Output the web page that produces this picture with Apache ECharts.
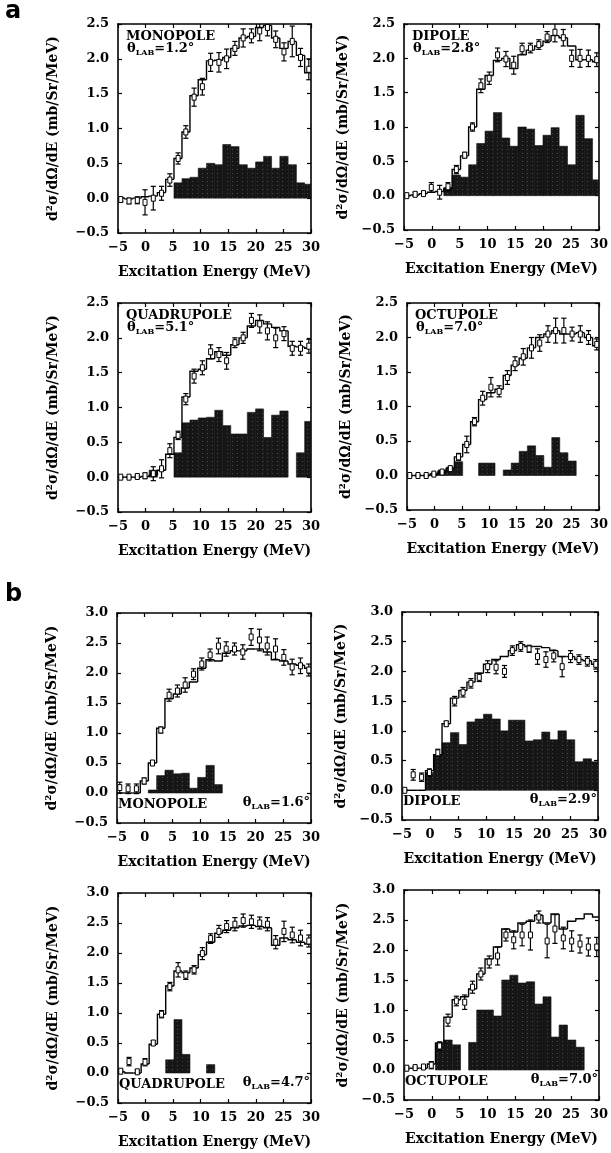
<!DOCTYPE html>
<html>
<head>
<meta charset="utf-8">
<script src="https://cdn.jsdelivr.net/npm/echarts/dist/echarts.min.js"></script>
<style>
  html, body { margin: 0; padding: 0; background: #fff; }
  #chart { width: 611px; height: 1153px; }
</style>
</head>
<body>
<div id="chart"></div>
<script>
// Bin centres (MeV) shared by every panel
const energy = [-4.5, -3.0, -1.5, -0.1, 1.4, 2.9, 4.4, 5.9, 7.3, 8.8, 10.3, 11.8,
                13.3, 14.7, 16.2, 17.7, 19.2, 20.7, 22.1, 23.6, 25.1, 26.6, 28.1, 29.6];

// Axis ticks
const xTicks  = [-5, 0, 5, 10, 15, 20, 25, 30];
const yTicksA = [-0.5, 0.0, 0.5, 1.0, 1.5, 2.0, 2.5];
const yTicksB = [-0.5, 0.0, 0.5, 1.0, 1.5, 2.0, 2.5, 3.0];

// ---- a: monopole, theta = 1.2 deg
const monoA_fit  = [0.0, -0.01, 0.0, 0.02, 0.03, 0.08, 0.27, 0.57, 0.95, 1.47, 1.7, 1.97, 1.98, 2.02, 2.15, 2.3, 2.32, 2.45, 2.48, 2.3, 2.15, 2.25, 2.05, 1.8];
const monoA_data = [-0.02, -0.04, -0.03, -0.06, 0.0, 0.07, 0.26, 0.57, 0.95, 1.45, 1.6, 1.95, 1.95, 2.0, 2.15, 2.3, 2.33, 2.4, 2.45, 2.28, 2.1, 2.25, 2.02, 1.85];
const monoA_err  = [0.03, 0.04, 0.05, 0.18, 0.17, 0.1, 0.09, 0.08, 0.09, 0.13, 0.12, 0.13, 0.14, 0.14, 0.1, 0.13, 0.1, 0.14, 0.12, 0.12, 0.13, 0.22, 0.13, 0.15];
const monoA_str  = [0, 0, 0, 0, 0, 0, 0, 0.22, 0.28, 0.3, 0.43, 0.5, 0.48, 0.77, 0.74, 0.48, 0.43, 0.52, 0.6, 0.43, 0.6, 0.48, 0.22, 0.2];

// ---- a: dipole, theta = 2.8 deg
const diA_fit  = [0.0, 0.01, 0.03, 0.05, 0.06, 0.1, 0.38, 0.58, 1.0, 1.55, 1.75, 1.97, 2.0, 1.85, 2.05, 2.12, 2.18, 2.25, 2.33, 2.3, 2.18, 1.98, 1.98, 1.95];
const diA_data = [0.0, 0.02, 0.03, 0.12, 0.05, 0.13, 0.38, 0.59, 1.0, 1.6, 1.71, 2.05, 1.99, 1.9, 2.14, 2.15, 2.2, 2.31, 2.38, 2.3, 2.0, 2.0, 2.0, 1.98];
const diA_err  = [0.01, 0.03, 0.03, 0.07, 0.1, 0.06, 0.06, 0.04, 0.06, 0.1, 0.09, 0.1, 0.11, 0.13, 0.08, 0.07, 0.07, 0.08, 0.14, 0.12, 0.12, 0.13, 0.12, 0.1];
const diA_str  = [0, 0, 0, 0, 0, 0.12, 0.3, 0.27, 0.45, 0.76, 0.94, 1.21, 0.84, 0.72, 1.0, 0.97, 0.73, 0.88, 0.99, 0.72, 0.45, 1.17, 0.83, 0.23];

// ---- a: quadrupole, theta = 5.1 deg
const quadA_fit  = [0.0, 0.0, 0.0, 0.01, 0.03, 0.1, 0.33, 0.57, 1.15, 1.52, 1.55, 1.7, 1.8, 1.75, 1.9, 2.0, 2.17, 2.25, 2.2, 2.15, 2.1, 1.88, 1.87, 1.85];
const quadA_data = [0.0, 0.0, 0.01, 0.02, 0.05, 0.12, 0.38, 0.6, 1.12, 1.45, 1.57, 1.8, 1.76, 1.67, 1.93, 2.0, 2.25, 2.2, 2.1, 2.0, 2.06, 1.85, 1.85, 1.88];
const quadA_err  = [0.01, 0.01, 0.02, 0.04, 0.1, 0.13, 0.1, 0.06, 0.08, 0.1, 0.1, 0.1, 0.1, 0.12, 0.07, 0.08, 0.1, 0.13, 0.13, 0.14, 0.1, 0.1, 0.1, 0.1];
const quadA_str  = [0, 0, 0, 0, 0.1, 0, 0, 0.35, 0.78, 0.82, 0.85, 0.86, 0.96, 0.74, 0.62, 0.62, 0.93, 0.98, 0.57, 0.89, 0.95, 0, 0.35, 0.8];

// ---- a: octupole, theta = 7.0 deg
const octA_fit  = [0.0, 0.0, 0.0, 0.02, 0.05, 0.1, 0.27, 0.45, 0.78, 1.1, 1.2, 1.25, 1.45, 1.6, 1.7, 1.85, 2.0, 2.05, 2.1, 2.05, 2.05, 2.07, 2.0, 1.88];
const octA_data = [0.0, 0.0, 0.0, 0.02, 0.05, 0.1, 0.27, 0.45, 0.78, 1.12, 1.28, 1.22, 1.42, 1.62, 1.72, 1.85, 1.92, 2.05, 2.1, 2.1, 2.05, 2.05, 2.0, 1.9];
const octA_err  = [0.01, 0.01, 0.01, 0.02, 0.02, 0.03, 0.05, 0.12, 0.06, 0.1, 0.14, 0.08, 0.1, 0.1, 0.12, 0.15, 0.12, 0.12, 0.18, 0.18, 0.1, 0.12, 0.1, 0.08];
const octA_str  = [0, 0, 0, 0.03, 0.08, 0.12, 0.2, 0, 0, 0.18, 0.18, 0, 0.08, 0.18, 0.35, 0.43, 0.29, 0.12, 0.55, 0.33, 0.21, 0, 0, 0];

// ---- b: monopole, theta = 1.6 deg
const monoB_fit  = [0.0, 0.0, 0.0, 0.2, 0.5, 1.08, 1.57, 1.65, 1.75, 1.85, 2.08, 2.22, 2.2, 2.33, 2.37, 2.37, 2.4, 2.4, 2.35, 2.22, 2.2, 2.15, 2.13, 2.08];
const monoB_data = [0.09, 0.07, 0.07, 0.2, 0.5, 1.05, 1.63, 1.7, 1.8, 1.98, 2.15, 2.3, 2.45, 2.4, 2.4, 2.35, 2.6, 2.55, 2.45, 2.4, 2.26, 2.1, 2.12, 2.05];
const monoB_err  = [0.09, 0.08, 0.08, 0.05, 0.04, 0.05, 0.1, 0.1, 0.12, 0.09, 0.1, 0.1, 0.13, 0.12, 0.1, 0.12, 0.14, 0.18, 0.15, 0.17, 0.13, 0.13, 0.13, 0.1];
const monoB_str  = [0, 0, 0, 0, 0.05, 0.29, 0.38, 0.32, 0.33, 0.08, 0.26, 0.46, 0.14, 0, 0, 0, 0, 0, 0, 0, 0, 0, 0, 0];

// ---- b: dipole, theta = 2.9 deg
const diB_fit  = [0.0, 0.0, 0.0, 0.33, 0.6, 1.12, 1.55, 1.68, 1.82, 1.97, 2.12, 2.2, 2.25, 2.35, 2.45, 2.42, 2.42, 2.4, 2.35, 2.25, 2.25, 2.2, 2.18, 2.12];
const diB_data = [0.0, 0.26, 0.22, 0.3, 0.63, 1.12, 1.5, 1.65, 1.8, 1.9, 2.08, 2.07, 2.0, 2.35, 2.42, 2.38, 2.25, 2.2, 2.26, 2.08, 2.25, 2.2, 2.17, 2.12];
const diB_err  = [0.01, 0.09, 0.07, 0.06, 0.06, 0.04, 0.08, 0.08, 0.08, 0.07, 0.1, 0.11, 0.1, 0.08, 0.08, 0.06, 0.13, 0.13, 0.1, 0.17, 0.1, 0.08, 0.08, 0.08];
const diB_str  = [0, 0, 0, 0.3, 0.6, 0.8, 0.97, 0.77, 1.15, 1.2, 1.28, 1.2, 1.0, 1.18, 1.18, 0.83, 0.85, 0.98, 0.85, 1.0, 0.85, 0.48, 0.53, 0.48];

// ---- b: quadrupole, theta = 4.7 deg
const quadB_fit  = [0.02, 0.0, 0.0, 0.15, 0.48, 0.98, 1.45, 1.7, 1.67, 1.75, 1.97, 2.18, 2.33, 2.38, 2.42, 2.45, 2.46, 2.44, 2.42, 2.13, 2.25, 2.22, 2.18, 2.15];
const quadB_data = [0.03, 0.19, 0.02, 0.18, 0.5, 0.98, 1.44, 1.72, 1.63, 1.72, 1.99, 2.24, 2.36, 2.44, 2.48, 2.54, 2.52, 2.5, 2.48, 2.18, 2.36, 2.3, 2.25, 2.2];
const quadB_err  = [0.02, 0.07, 0.03, 0.06, 0.04, 0.06, 0.07, 0.12, 0.07, 0.07, 0.1, 0.08, 0.1, 0.1, 0.11, 0.11, 0.11, 0.1, 0.11, 0.11, 0.17, 0.13, 0.13, 0.1];
const quadB_str  = [0, 0, 0, 0, 0, 0, 0.22, 0.89, 0.31, 0, 0, 0.14, 0, 0, 0, 0, 0, 0, 0, 0, 0, 0, 0, 0];

// ---- b: octupole, theta = 7.0 deg
const octB_fit  = [0.03, 0.03, 0.03, 0.1, 0.45, 0.88, 1.17, 1.22, 1.35, 1.6, 1.85, 2.05, 2.35, 2.3, 2.45, 2.48, 2.58, 2.45, 2.6, 2.35, 2.48, 2.52, 2.6, 2.55];
const octB_data = [0.03, 0.04, 0.05, 0.08, 0.4, 0.83, 1.15, 1.13, 1.38, 1.6, 1.8, 1.9, 2.25, 2.17, 2.25, 2.25, 2.55, 2.15, 2.35, 2.2, 2.15, 2.1, 2.05, 2.05];
const octB_err  = [0.02, 0.02, 0.03, 0.06, 0.07, 0.1, 0.08, 0.12, 0.1, 0.1, 0.1, 0.15, 0.1, 0.15, 0.18, 0.25, 0.1, 0.28, 0.24, 0.18, 0.17, 0.15, 0.15, 0.16];
const octB_str  = [0, 0, 0, 0, 0.44, 0.5, 0.42, 0, 0.46, 1.0, 1.0, 0.9, 1.5, 1.58, 1.45, 1.47, 1.1, 1.22, 0.55, 0.75, 0.5, 0.38, 0, 0];

// Panel labels
const multipoles = ['MONOPOLE', 'DIPOLE', 'QUADRUPOLE', 'OCTUPOLE', 'MONOPOLE', 'DIPOLE', 'QUADRUPOLE', 'OCTUPOLE'];
const angles = ['1.2°', '2.8°', '5.1°', '7.0°', '1.6°', '2.9°', '4.7°', '7.0°'];

const panels = [
  { fit: monoA_fit, data: monoA_data, err: monoA_err, str: monoA_str, yTicks: yTicksA },
  { fit: diA_fit,   data: diA_data,   err: diA_err,   str: diA_str,   yTicks: yTicksA },
  { fit: quadA_fit, data: quadA_data, err: quadA_err, str: quadA_str, yTicks: yTicksA },
  { fit: octA_fit,  data: octA_data,  err: octA_err,  str: octA_str,  yTicks: yTicksA },
  { fit: monoB_fit, data: monoB_data, err: monoB_err, str: monoB_str, yTicks: yTicksB },
  { fit: diB_fit,   data: diB_data,   err: diB_err,   str: diB_str,   yTicks: yTicksB },
  { fit: quadB_fit, data: quadB_data, err: quadB_err, str: quadB_str, yTicks: yTicksB },
  { fit: octB_fit,  data: octB_data,  err: octB_err,  str: octB_str,  yTicks: yTicksB }
];

// Plot boxes (pixels)
const boxes = [
  { left: 118, top: 24,  width: 193, height: 209 },
  { left: 404, top: 24,  width: 198, height: 206 },
  { left: 118, top: 303, width: 193, height: 209 },
  { left: 407, top: 303, width: 195, height: 207 },
  { left: 117, top: 613, width: 194, height: 210 },
  { left: 402, top: 612, width: 196, height: 208 },
  { left: 118, top: 893, width: 193, height: 210 },
  { left: 404, top: 890, width: 195, height: 210 }
];

// Bin edges from the centres
const edges = energy.map((e, i) => i === 0 ? e - (energy[1] - energy[0]) / 2 : (energy[i - 1] + e) / 2);
edges.push(energy[energy.length - 1] + (energy[energy.length - 1] - energy[energy.length - 2]) / 2);

const X_MIN = xTicks[0], X_MAX = xTicks[xTicks.length - 1];
const clampX = v => Math.max(X_MIN, Math.min(X_MAX, v));

// Dark stippled fill for the strength histograms
const stippleCanvas = (function () {
  const c = document.createElement('canvas');
  c.width = 5; c.height = 4;
  const g = c.getContext('2d');
  g.fillStyle = '#161616'; g.fillRect(0, 0, 5, 4);
  g.fillStyle = '#4a4a4a'; g.fillRect(2, 1, 1, 1);
  return c;
})();
const stipple = { image: stippleCanvas, repeat: 'repeat' };

const serif = "'DejaVu Serif', 'Liberation Serif', serif";
const sans = "'DejaVu Sans', 'Liberation Sans', sans-serif";
const fmtTick = v => (v < 0 ? '\u2212' : '') + Math.abs(v).toFixed(1);

const grid = [], xAxis = [], yAxis = [], series = [], graphic = [];

panels.forEach((p, k) => {
  const b = boxes[k];
  const yT = p.yTicks;
  grid.push({ left: b.left, top: b.top, width: b.width, height: b.height, containLabel: false });

  const xBase = {
    gridIndex: k, type: 'value', min: X_MIN, max: X_MAX, interval: xTicks[1] - xTicks[0],
    splitLine: { show: false },
    axisLine: { show: true, onZero: false, lineStyle: { color: '#000', width: 1.6 } },
    axisTick: { show: true, inside: true, length: 4, lineStyle: { color: '#000', width: 1.2 } }
  };
  xAxis.push(Object.assign({}, xBase, {
    position: 'bottom',
    name: 'Excitation Energy (MeV)', nameLocation: 'middle', nameGap: 32,
    nameTextStyle: { fontFamily: serif, fontWeight: 'bold', fontSize: 14, color: '#000' },
    axisLabel: { show: true, margin: 8, fontFamily: serif, fontWeight: 'bold', fontSize: 13, color: '#000',
                 formatter: v => (v < 0 ? '\u2212' : '') + Math.abs(v) }
  }));
  xAxis.push(Object.assign({}, xBase, { position: 'top', axisLabel: { show: false } }));

  const yBase = {
    gridIndex: k, type: 'value', min: yT[0], max: yT[yT.length - 1], interval: yT[1] - yT[0],
    splitLine: { show: false },
    axisLine: { show: true, onZero: false, lineStyle: { color: '#000', width: 1.6 } },
    axisTick: { show: true, inside: true, length: 4, lineStyle: { color: '#000', width: 1.2 } }
  };
  yAxis.push(Object.assign({}, yBase, {
    position: 'left',
    name: 'd\u00B2\u03C3/d\u03A9/dE (mb/Sr/MeV)', nameLocation: 'middle', nameRotate: 90,
    nameGap: (k % 2 === 0) ? 58 : 54,
    nameTextStyle: { fontFamily: serif, fontWeight: 'bold', fontSize: 14, color: '#000' },
    axisLabel: { show: true, margin: 9, fontFamily: serif, fontWeight: 'bold', fontSize: 13, color: '#000',
                 formatter: fmtTick }
  }));
  yAxis.push(Object.assign({}, yBase, { position: 'right', axisLabel: { show: false } }));

  const xi = 2 * k, yi = 2 * k;

  // strength histogram
  series.push({
    type: 'custom', xAxisIndex: xi, yAxisIndex: yi, clip: true, silent: true,
    data: p.str.map((v, i) => [energy[i], v]),
    renderItem: (params, api) => {
      const i = params.dataIndex;
      const v = api.value(1);
      if (!v) return null;
      const p0 = api.coord([clampX(edges[i]), 0]);
      const p1 = api.coord([clampX(edges[i + 1]), v]);
      return {
        type: 'rect',
        shape: { x: p0[0], y: p1[1], width: p1[0] - p0[0], height: p0[1] - p1[1] },
        style: { fill: stipple, stroke: '#111', lineWidth: 0.6 }
      };
    }
  });

  // stepped fit histogram
  const fit = p.fit;
  series.push({
    type: 'custom', xAxisIndex: xi, yAxisIndex: yi, clip: true, silent: true,
    data: fit.map((v, i) => [energy[i], v]),
    renderItem: (params, api) => {
      const i = params.dataIndex;
      const v = api.value(1);
      const prev = i > 0 ? fit[i - 1] : v;
      const a = api.coord([clampX(edges[i]), prev]);
      const bb = api.coord([clampX(edges[i]), v]);
      const c = api.coord([clampX(edges[i + 1]), v]);
      return {
        type: 'polyline',
        shape: { points: [a, bb, c] },
        style: { stroke: '#000', lineWidth: 1.4, fill: null }
      };
    }
  });

  // measured points with error bars
  series.push({
    type: 'custom', xAxisIndex: xi, yAxisIndex: yi, clip: true, silent: true,
    data: p.data.map((v, i) => [energy[i], v, p.err[i]]),
    renderItem: (params, api) => {
      const x = api.value(0), v = api.value(1), e = api.value(2);
      const t = api.coord([x, v + e]);
      const bo = api.coord([x, v - e]);
      const m = api.coord([x, v]);
      const cw = 2.6;
      const ln = { stroke: '#000', lineWidth: 1.2 };
      return {
        type: 'group',
        children: [
          { type: 'line', shape: { x1: t[0], y1: t[1], x2: bo[0], y2: bo[1] }, style: ln },
          { type: 'line', shape: { x1: t[0] - cw, y1: t[1], x2: t[0] + cw, y2: t[1] }, style: ln },
          { type: 'line', shape: { x1: bo[0] - cw, y1: bo[1], x2: bo[0] + cw, y2: bo[1] }, style: ln },
          { type: 'rect', shape: { x: m[0] - 2, y: m[1] - 3, width: 4, height: 6 },
            style: { fill: '#fff', stroke: '#000', lineWidth: 1 } }
        ]
      };
    }
  });

  // in-panel labels: top-left stacked for set a, along the bottom for set b
  const thetaRich = {
    t: { fontFamily: serif, fontWeight: 'bold', fontSize: 13, lineHeight: 16, verticalAlign: 'middle', fill: '#000' },
    s: { fontFamily: serif, fontWeight: 'bold', fontSize: 8, lineHeight: 8, verticalAlign: 'bottom', fill: '#000' }
  };
  const thetaText = '{t|\u03B8}{s|LAB}{t|=' + angles[k] + '}';
  if (k < 4) {
    graphic.push({ type: 'text', left: b.left + 8, top: b.top + 6, z: 10,
      style: { text: multipoles[k], font: 'bold 13px ' + serif, fill: '#000' } });
    graphic.push({ type: 'text', left: b.left + 9, top: b.top + 18, z: 10,
      style: { text: thetaText, rich: thetaRich } });
  } else {
    graphic.push({ type: 'text', left: b.left + 1, top: b.top + b.height - 25, z: 10,
      style: { text: multipoles[k], font: 'bold 13px ' + serif, fill: '#000' } });
    graphic.push({ type: 'text', right: 611 - (b.left + b.width) + 1, top: b.top + b.height - 27, z: 10,
      style: { text: thetaText, rich: thetaRich } });
  }
});

// Figure part letters
graphic.push({ type: 'text', left: 5, top: 0, style: { text: 'a', font: 'bold 24px ' + sans, fill: '#000' } });
graphic.push({ type: 'text', left: 5, top: 583, style: { text: 'b', font: 'bold 24px ' + sans, fill: '#000' } });

const chart = echarts.init(document.getElementById('chart'), null, { renderer: 'canvas' });
chart.setOption({
  backgroundColor: '#fff',
  animation: false,
  grid, xAxis, yAxis, series, graphic
});
</script>
</body>
</html>
